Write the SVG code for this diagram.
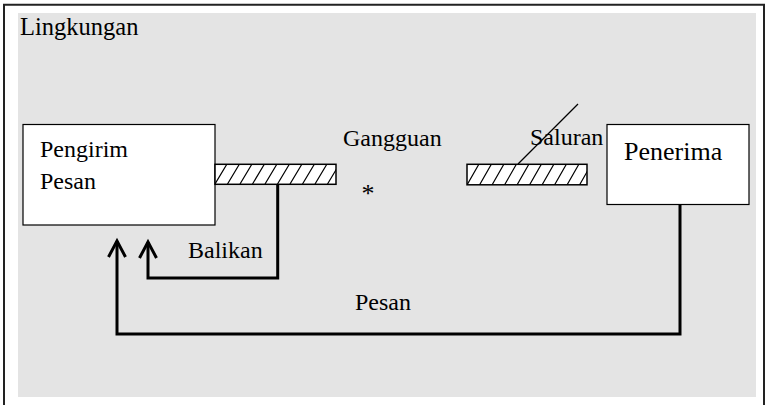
<svg xmlns="http://www.w3.org/2000/svg" width="765" height="405" viewBox="0 0 765 405">
  <style>
    text { font-family: 'Liberation Serif', 'Times New Roman', serif; font-size: 24px; fill: #000; }
    .box { fill: #fff; stroke: #000; stroke-width: 1.2; }
    .bar { fill: #fff; stroke: #000; stroke-width: 1.5; }
    .hatch { stroke: #000; stroke-width: 1.2; fill: none; }
    .conn { fill: none; stroke: #000; stroke-width: 3; }
  </style>
  <defs>
    <marker id="arr" markerUnits="userSpaceOnUse" markerWidth="30" markerHeight="30" viewBox="-20 -15 30 30" refX="0" refY="0" orient="auto">
      <path d="M-16,-8.5 L0,0 L-16,8.5" fill="none" stroke="#000" stroke-width="3"/>
    </marker>
    <clipPath id="c1"><rect x="215" y="164" width="121" height="20"/></clipPath>
    <clipPath id="c2"><rect x="467" y="164" width="120" height="21"/></clipPath>
  </defs>

  <g id="environment">
    <rect x="18" y="13" width="738" height="384" fill="#e4e4e4"/>
    <path d="M4 405 V4.8 H764 V405" fill="none" stroke="#222" stroke-width="2"/>
    <text x="20" y="35" style="font-size:24.5px">Lingkungan</text>
  </g>

  <g id="pengirim">
    <rect class="box" x="23" y="124.5" width="192" height="100.5"/>
    <text x="40" y="157">Pengirim</text>
    <text x="40" y="189">Pesan</text>
  </g>

  <g id="bar-left">
    <rect class="bar" x="215" y="164.3" width="121" height="20"/>
    <g clip-path="url(#c1)">
      <path class="hatch" d="M215 184 L227 164 M227.5 184 L239.5 164 M240 184 L252 164 M252.5 184 L264.5 164 M265 184 L277 164 M277.5 184 L289.5 164 M290 184 L302 164 M302.5 184 L314.5 164 M315 184 L327 164 M327.5 184 L339.5 164"/>
    </g>
  </g>

  <g id="gangguan">
    <text x="343" y="146">Gangguan</text>
    <text x="368" y="202" text-anchor="middle" style="font-size:26px">*</text>
  </g>

  <g id="saluran">
    <rect class="bar" x="467" y="164.3" width="120" height="20.5"/>
    <g clip-path="url(#c2)">
      <path class="hatch" d="M467 185 L479 164 M479.5 185 L491.5 164 M492 185 L504 164 M504.5 185 L516.5 164 M517 185 L529 164 M529.5 185 L541.5 164 M542 185 L554 164 M554.5 185 L566.5 164 M567 185 L579 164 M579.5 185 L591.5 164"/>
    </g>
    <line x1="578" y1="104" x2="518" y2="164" stroke="#000" stroke-width="1.2"/>
    <text x="530" y="145">Saluran</text>
  </g>

  <g id="penerima">
    <rect class="box" x="607" y="124.5" width="142" height="80"/>
    <text x="624" y="160" style="font-size:26px">Penerima</text>
  </g>

  <g id="connectors">
    <path class="conn" d="M277.7 184.5 V278 H148 V242" marker-end="url(#arr)"/>
    <path class="conn" d="M680 205 V334 H117 V241" marker-end="url(#arr)"/>
    <text x="188" y="258">Balikan</text>
    <text x="355" y="310">Pesan</text>
  </g>
</svg>
